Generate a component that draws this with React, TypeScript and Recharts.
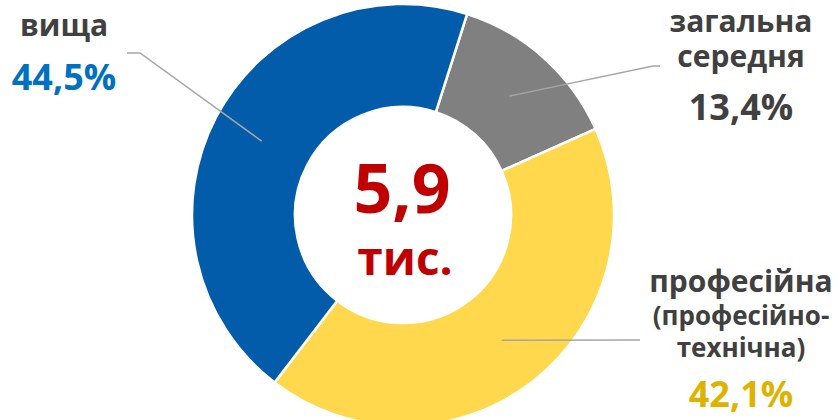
import React from "react"
import { PieChart, Pie, Cell } from "recharts"

// share of each education level, %
const categories = ["загальна середня", "професійна (професійно-технічна)", "вища"]
const shares = [13.4, 42.1, 44.5]
const labelLines = [
  ["загальна", "середня"],
  ["професійна", "(професійно-", "технічна)"],
  ["вища"],
]
const totalValue = "5,9"
const totalUnit = "тис."

const sliceColors = ["#808080", "#FFD84D", "#035CA9"]
const percentColors = ["#404040", "#DDB300", "#0070C0"]
const FONT = "'Open Sans', 'DejaVu Sans', sans-serif"

// where each outside label sits and how its leader line bends
const labelLayout = [
  { x: 741, sizes: [30, 30], baselines: [32, 67], pctY: 120, path: [[653, 66], [660, 66]] },
  { x: 741, sizes: [30, 26, 26], baselines: [292, 325, 357], pctY: 407, path: [[630, 340], [640, 340]] },
  { x: 64, sizes: [30], baselines: [36], pctY: 90, path: [[140, 53], [127, 53]] },
]

const data = categories.map((name, i) => ({ name, value: shares[i] }))

const RAD = Math.PI / 180

const renderLabel = (props: any) => {
  const { cx, cy, midAngle, innerRadius, outerRadius, index } = props
  const r = (innerRadius + outerRadius) / 2
  const sx = cx + r * Math.cos(-midAngle * RAD)
  const sy = cy + r * Math.sin(-midAngle * RAD)
  const lay = labelLayout[index]
  const pts = [[sx, sy], ...lay.path].map((p) => p.join(",")).join(" ")
  const pct = shares[index].toFixed(1).replace(".", ",") + "%"
  return (
    <g>
      <polyline points={pts} fill="none" stroke="#A6A6A6" strokeWidth={1.5} />
      {labelLines[index].map((t, j) => (
        <text
          key={j}
          x={lay.x}
          y={lay.baselines[j]}
          textAnchor="middle"
          fontFamily={FONT}
          fontWeight={700}
          fontSize={lay.sizes[j]}
          fill="#404040"
        >
          {t}
        </text>
      ))}
      <text
        x={lay.x}
        y={lay.pctY}
        textAnchor="middle"
        fontFamily={FONT}
        fontWeight={700}
        fontSize={36}
        fill={percentColors[index]}
      >
        {pct}
      </text>
    </g>
  )
}

export default function App() {
  return (
    <div style={{ position: "absolute", left: 0, top: 0, width: 840, height: 420, background: "#fff" }}>
      <PieChart width={840} height={420} margin={{ top: 0, right: 0, bottom: 0, left: 0 }}>
        <Pie
          data={data}
          dataKey="value"
          nameKey="name"
          cx={403}
          cy={215}
          innerRadius={108}
          outerRadius={211}
          startAngle={72.3}
          endAngle={-287.7}
          stroke="#fff"
          strokeWidth={2.5}
          label={renderLabel}
          labelLine={false}
          isAnimationActive={false}
        >
          {data.map((d, i) => (
            <Cell key={d.name} fill={sliceColors[i]} />
          ))}
        </Pie>
        <text x={402} y={213} textAnchor="middle" fontFamily={FONT} fontWeight={700} fontSize={68} fill="#C00000">
          {totalValue}
        </text>
        <text x={405} y={275} textAnchor="middle" fontFamily={FONT} fontWeight={700} fontSize={46} fill="#C00000">
          {totalUnit}
        </text>
      </PieChart>
    </div>
  )
}
